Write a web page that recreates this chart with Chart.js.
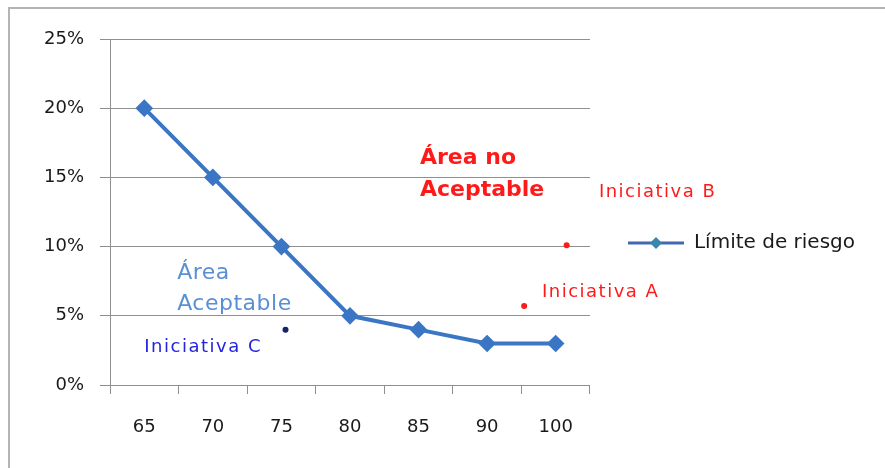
<!DOCTYPE html>
<html>
<head>
<meta charset="utf-8">
<script src="https://cdn.jsdelivr.net/npm/chart.js@4/dist/chart.umd.min.js"></script>
<style>
  html, body { margin: 0; padding: 0; background: #ffffff; }
  #wrap { position: relative; width: 885px; height: 468px; overflow: hidden; }
  #frame { position: absolute; left: 8px; top: 7px; width: 880px; height: 470px;
           border-top: 2px solid #b4b4b4; border-left: 2px solid #b4b4b4; pointer-events: none; }
  canvas { position: absolute; left: 0; top: 0; }
</style>
</head>
<body>
<div id="wrap">
  <canvas id="c" width="885" height="468"></canvas>
  <div id="frame"></div>
</div>
<script>
// ---- data ----
const categories = ['65', '70', '75', '80', '85', '90', '100'];
const limitValues = [20, 15, 10, 5, 4, 3, 3];          // Límite de riesgo (%)
const yTickValues = [0, 5, 10, 15, 20, 25];

// initiative points: x = category position (index, fractional), y = %
const initiativeC = [{ x: 2.06, y: 4.0 }];
const initiativeA = [{ x: 5.54, y: 5.7 }];
const initiativeB = [{ x: 6.16, y: 10.1 }];

// text labels placed in data coordinates (category position, %)
const noteTexts  = ['Área no', 'Aceptable', 'Área', 'Aceptable', 'Iniciativa C', 'Iniciativa A', 'Iniciativa B'];
const noteX      = [4.02, 4.02, 0.48, 0.48, 0.0, 5.80, 6.63];
const noteY      = [16.4, 14.1, 8.1, 5.8, 2.75, 6.7, 13.95];

const RED = '#ff1a1a';
const noteStyles = [
  { font: 'bold 22px "DejaVu Sans"', color: RED },
  { font: 'bold 22px "DejaVu Sans"', color: RED },
  { font: '22px "DejaVu Sans"', color: '#5a8fd4', spacing: '0.5px' },
  { font: '22px "DejaVu Sans"', color: '#5a8fd4', spacing: '0.5px' },
  { font: '18px "DejaVu Sans"', color: '#2424e0', spacing: '1.5px' },
  { font: '18px "DejaVu Sans"', color: RED, spacing: '1.5px' },
  { font: '18px "DejaVu Sans"', color: RED, spacing: '1.5px' }
];

const LINE_COLOR = '#3a76c4';

// legend marker: line with a diamond
function legendMarker() {
  const c = document.createElement('canvas');
  c.width = 56; c.height = 16;
  const g = c.getContext('2d');
  g.strokeStyle = '#4467b0'; g.lineWidth = 3;
  g.beginPath(); g.moveTo(0, 8); g.lineTo(56, 8); g.stroke();
  g.fillStyle = '#3a85ad';
  g.beginPath(); g.moveTo(28, 2); g.lineTo(34, 8); g.lineTo(28, 14); g.lineTo(22, 8); g.closePath(); g.fill();
  return c;
}

const notesPlugin = {
  id: 'notes',
  afterDatasetsDraw(chart) {
    const ctx = chart.ctx;
    const xs = chart.scales.x2, ys = chart.scales.y;
    noteTexts.forEach((t, i) => {
      const s = noteStyles[i];
      ctx.save();
      ctx.font = s.font;
      ctx.fillStyle = s.color;
      if (s.spacing) ctx.letterSpacing = s.spacing;
      ctx.textAlign = 'left';
      ctx.textBaseline = 'middle';
      ctx.fillText(t, xs.getPixelForValue(noteX[i]), ys.getPixelForValue(noteY[i]));
      ctx.restore();
    });
  }
};

const GRID = '#8f8f8f';

new Chart(document.getElementById('c'), {
  type: 'line',
  data: {
    labels: categories,
    datasets: [
      {
        label: 'Límite de riesgo',
        data: limitValues,
        xAxisID: 'x',
        borderColor: LINE_COLOR,
        backgroundColor: LINE_COLOR,
        borderWidth: 4,
        tension: 0,
        pointStyle: 'rectRot',
        pointRadius: 6,
        pointBackgroundColor: LINE_COLOR,
        pointBorderColor: LINE_COLOR,
        order: 2
      },
      {
        label: 'Iniciativa C',
        data: initiativeC,
        xAxisID: 'x2',
        showLine: false,
        pointRadius: 3,
        pointBackgroundColor: '#13226b',
        pointBorderColor: '#13226b',
        borderWidth: 0,
        order: 1
      },
      {
        label: 'Iniciativa A',
        data: initiativeA,
        xAxisID: 'x2',
        showLine: false,
        pointRadius: 3,
        pointBackgroundColor: RED,
        pointBorderColor: RED,
        borderWidth: 0,
        order: 1
      },
      {
        label: 'Iniciativa B',
        data: initiativeB,
        xAxisID: 'x2',
        showLine: false,
        pointRadius: 3,
        pointBackgroundColor: RED,
        pointBorderColor: RED,
        borderWidth: 0,
        order: 1
      }
    ]
  },
  options: {
    responsive: false,
    animation: false,
    devicePixelRatio: 1,
    layout: { padding: { top: 39, left: 10, right: 20, bottom: 21 } },
    plugins: {
      title: { display: false },
      tooltip: { enabled: false },
      legend: {
        position: 'right',
        align: 'center',
        maxWidth: 320,
        labels: {
          usePointStyle: true,
          pointStyle: legendMarker(),
          pointStyleWidth: 56,
          padding: 38,
          color: '#1a1a1a',
          font: { family: '"DejaVu Sans"', size: 20 },
          filter: (item) => item.datasetIndex === 0
        }
      }
    },
    scales: {
      x: {
        type: 'category',
        position: 'bottom',
        offset: true,
        grid: { offset: true, drawOnChartArea: false, drawTicks: true, tickLength: 9, color: GRID, lineWidth: 1 },
        border: { display: true, color: GRID, width: 1 },
        ticks: { color: '#1a1a1a', padding: 23, font: { family: '"DejaVu Sans"', size: 18 } },
        afterFit: (s) => { s.height = 62; }
      },
      x2: {
        type: 'linear',
        position: 'bottom',
        display: false,
        min: -0.5,
        max: 6.5
      },
      y: {
        min: 0,
        max: 25,
        afterBuildTicks: (s) => { s.ticks = yTickValues.map(v => ({ value: v })); },
        grid: { color: GRID, lineWidth: 1, tickLength: 10, drawTicks: true },
        border: { display: true, color: GRID, width: 1 },
        ticks: { color: '#1a1a1a', padding: 16, font: { family: '"DejaVu Sans"', size: 18 },
                 callback: (v) => v + '%' },
        afterFit: (s) => { s.width = 100; }
      }
    }
  },
  plugins: [notesPlugin]
});
</script>
</body>
</html>
